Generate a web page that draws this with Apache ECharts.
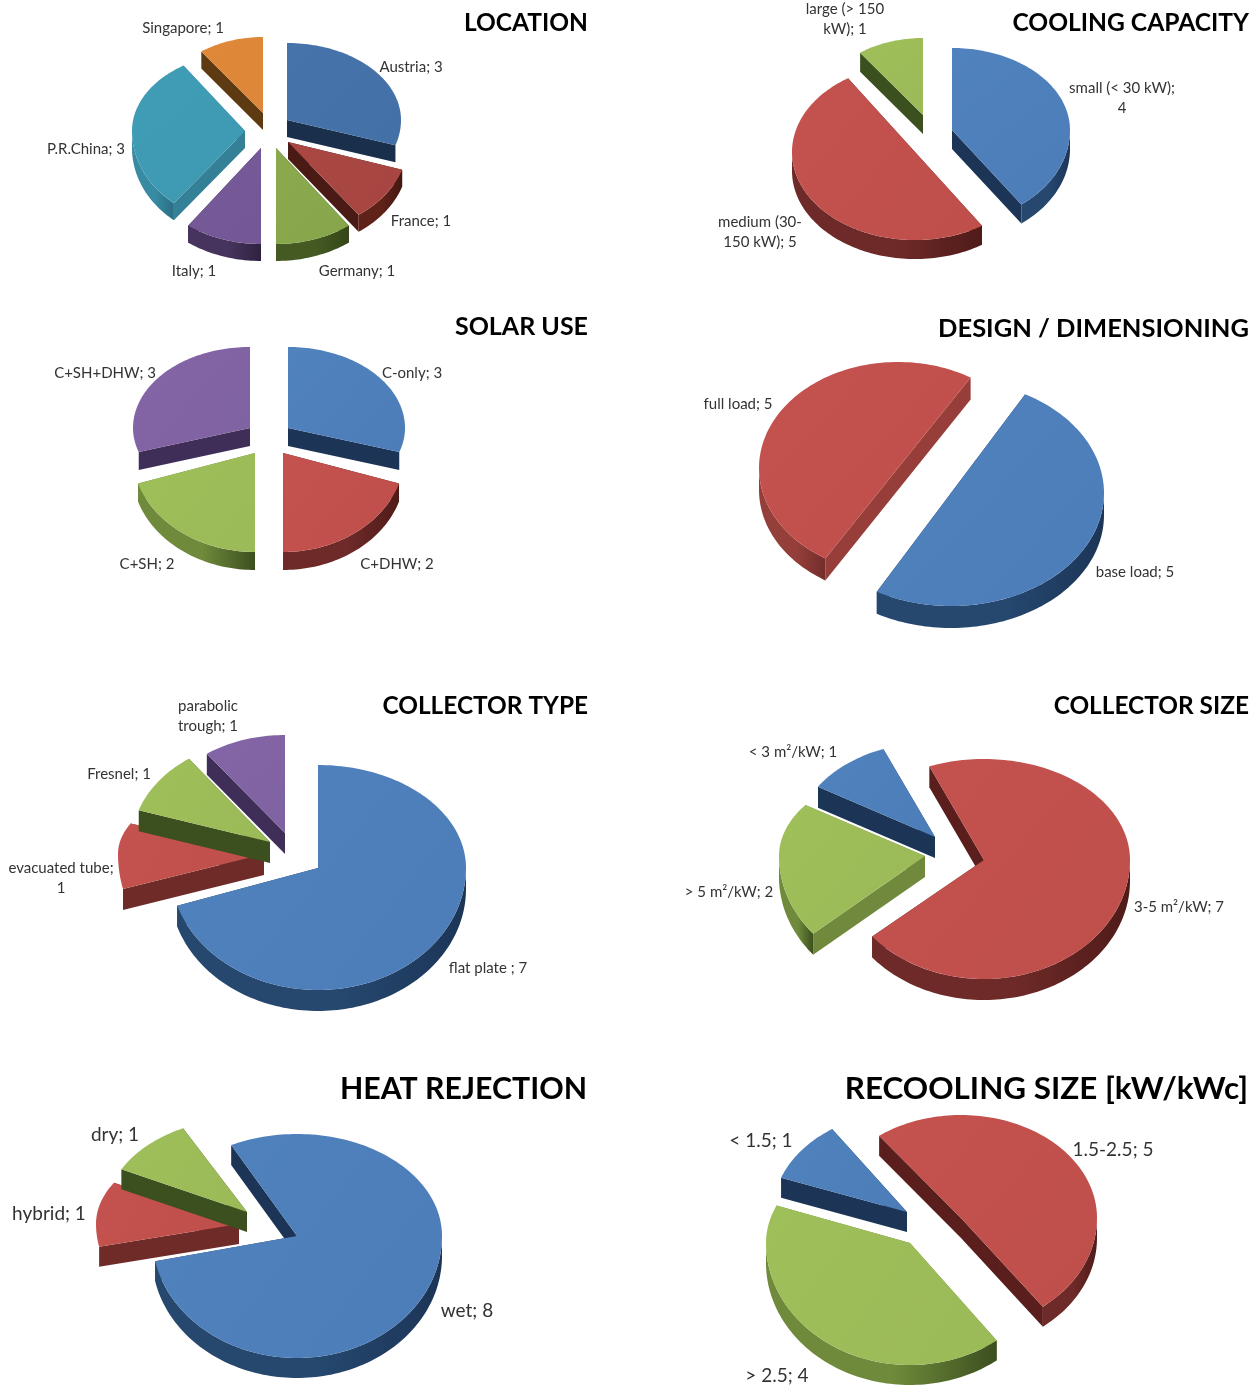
<!DOCTYPE html>
<html>
<head>
<meta charset="utf-8">
<style>html,body{margin:0;padding:0;background:#fff}#c{width:1259px;height:1385px}</style>
<script src="https://cdn.jsdelivr.net/npm/echarts@6/dist/echarts.min.js"></script>
</head>
<body>
<div id="c"></div>
<script>
// ---------- DATA ----------
const locationCats = ['Austria','France','Germany','Italy','P.R.China','Singapore'];
const locationVals = [3,1,1,1,3,1];
const coolingCats = ['small (< 30 kW);\n','medium (30-\n150 kW);','large (> 150\nkW);'];
const coolingVals = [4,5,1];
const solarCats = ['C-only','C+DHW','C+SH','C+SH+DHW'];
const solarVals = [3,2,2,3];
const designCats = ['base load','full load'];
const designVals = [5,5];
const collectorCats = ['flat plate ','evacuated tube;\n','Fresnel','parabolic\ntrough'];
const collectorVals = [7,1,1,1];
const sizeCats = ['< 3 m²/kW','3-5 m²/kW','> 5 m²/kW'];
const sizeVals = [1,7,2];
const heatCats = ['wet','hybrid','dry'];
const heatVals = [8,1,1];
const recoolCats = ['< 1.5','1.5-2.5','> 2.5'];
const recoolVals = [1,5,4];

// ---------- STYLE ----------
const P = {
  blue:   {top:['#5082be','#4c7db9'], cut:'#1c3557', arc:['#26486f','#1c3557']},
  red:    {top:['#c4524e','#bf4f4b'], cut:'#5a1f1c', arc:['#6e2a28','#4f1b19']},
  redC:   {top:['#c4524e','#bf4f4b'], cut:'#6e2b28', arc:['#6e2a28','#4f1b19']},
  redL:   {top:['#c4524e','#bf4f4b'], cut:'#983e3a', arc:['#953f3b','#732d2a']},
  green:  {top:['#9fbf5a','#9bba58'], cut:'#71893c', arc:['#6f8a3b','#3c4f1f']},
  greenD: {top:['#9fbf5a','#9bba58'], cut:'#3c4f1f', arc:['#6d883a','#3c4f1f']},
  purple: {top:['#8465a6','#7f62a1'], cut:'#3f2e58', arc:['#4a3862','#33254a']},
  lblue:  {top:['#4674aa','#4370a6'], cut:'#192f4c', arc:['#2a4f7c','#192f4c']},
  lred:   {top:['#aa4743','#a64541'], cut:'#4a1a14', arc:['#5e2219','#44160f']},
  lgreen: {top:['#8baa4e','#87a64b'], cut:'#384a1a', arc:['#445a22','#344617']},
  lpurple:{top:['#775a98','#735796'], cut:'#3a2a4e', arc:['#46345e','#2f2240']},
  teal:   {top:['#409db6','#3e99b2'], cut:'#348096', arc:['#378ba2','#2a6e82']},
  orange: {top:['#e08839','#de8639'], cut:'#5e3a12', arc:['#7a4c18','#5a3810']}
};
const FONT = 'Lato, Carlito, "Open Sans", sans-serif';
const LABEL = '#333333';

// ---------- LAYOUT: slice = [tip dx, tip dy, rx, ryBack, ryFront, startShift, endShift] (perspective fit, relative to the pie centre) ----------
const pies = [
 {cats:locationCats, vals:locationVals, c:[272,135], depth:17, start:0, font:15,
  pal:['lblue','lred','lgreen','lpurple','teal','orange'],
  geo:[[15,-15,114,77,82],[16,7,120,84,90],[4,13,124,96,96],[-11,13,124,96,96],[-27,-4,113,78,93,3,3],[-9,-22,105,76,76]],
  lab:[[411,66],[421,220],[357,270],[194,270],[86,148],[183,27]]},
 {cats:coolingCats, vals:coolingVals, c:[922,140], depth:19, start:0, font:15,
  pal:['blue','red','greenD'],
  geo:[[30,-10,118,82,92],[-7,12,123,88,88,3,3],[1,-25,107,77,77]],
  lab:[[1122,97],[760,231],[845,18]]},
 {cats:solarCats, vals:solarVals, c:[269,440], depth:18, start:0, font:15,
  pal:['blue','red','green','purple'],
  geo:[[19,-12,117,81,78],[14,13,122,99,99],[-14,13,123,99,99],[-19,-12,117,81,78]],
  lab:[[412,372],[397,563],[147,563],[105,372]]},
 {cats:designCats, vals:designVals, c:[925,480], depth:22, start:29, font:15,
  pal:['blue','redL'],
  geo:[[26,13,153,113,113],[-27,-12,139,106,106,2.5,2.5]],
  lab:[[1135,571],[738,403]]},
 {cats:collectorCats, vals:collectorVals, c:[295,850], depth:21, start:0, font:15,
  pal:['blue','redC','greenD','purple'],
  geo:[[23,18,148,103,122],[-31,4,146,75,135,3,6],[-25,-8,138,103,103],[-10,-17,133,98,98]],
  lab:[[488,967],[61,877],[119,773],[208,715]]},
 {cats:sizeCats, vals:sizeVals, c:[950,860], depth:21, start:302, font:15,
  pal:['blue','red','green'],
  geo:[[-15,-23,138,95,95],[34,0,146,101,119],[-25,-4,146,89,121,0,3]],
  lab:[[793,751],[1179,906],[729,891]]},
 {cats:heatCats, vals:heatVals, c:[270,1225], depth:20, start:333, font:19,
  pal:['blue','redC','greenD'],
  geo:[[27,11,145,102,122,0,-3],[-31,-1,143,85,110,-3,2],[-23,-13,141,94,94]],
  lab:[[467,1310],[49,1213],[115,1134]]},
 {cats:recoolCats, vals:recoolVals, c:[935,1225], depth:20, start:287, font:19,
  pal:['blue','red','green'],
  geo:[[-28,-13,134,100,100,3,3],[26,-7,136,103,111],[-25,18,144,100,122,0,5]],
  lab:[[761,1140],[1113,1149],[777,1375]]}
];
const titles = [
 ['LOCATION',588,22,24.5],['COOLING CAPACITY',1249,22,24.6],
 ['SOLAR USE',588,326,25],['DESIGN / DIMENSIONING',1249,328,25.5],
 ['COLLECTOR TYPE',588,705,24.4],['COLLECTOR SIZE',1249,705,24.4],
 ['HEAT REJECTION',587,1088,30.3],['RECOOLING SIZE [kW/kWc]',1248,1088,31.4]
];

// ---------- DRAWING ----------
const rad = d => d*Math.PI/180;
function rim(tip, g, a){            // point of the slice's elliptical rim at clockwise angle a
  const c = Math.cos(rad(a));
  return [tip[0]+g[2]*Math.sin(rad(a)), tip[1]-c*(c>0?g[3]:g[4])];
}
function arcPts(tip,g,a0,a1){
  const n = Math.max(2,Math.ceil((a1-a0)/1.5)), out=[];
  for(let i=0;i<=n;i++) out.push(rim(tip,g,a0+(a1-a0)*i/n));
  return out;
}
const vgrad = c => new echarts.graphic.LinearGradient(0,0,1,1,[{offset:0,color:c[0]},{offset:1,color:c[1]}]);
const hgrad = c => new echarts.graphic.LinearGradient(0,0,1,0,[{offset:0,color:c[0]},{offset:.55,color:c[0]},{offset:1,color:c[1]}]);
function labelText(cat,v){
  if(cat.endsWith('\n')) return cat+v;
  if(cat.endsWith(';')) return cat+' '+v;
  return cat+'; '+v;
}

function makeRender(p){
  const total = p.vals.reduce((a,b)=>a+b,0);
  return function(params, api){
    const i = params.dataIndex;
    let before = 0;
    for(let k=0;k<i;k++) before += p.vals[k];
    const v = api.value(0);
    const g = p.geo[i];
    const a0 = p.start + before/total*360 + (g[5]||0), a1 = p.start + (before+v)/total*360 + (g[6]||0);
    const tip = [p.c[0]+g[0], p.c[1]+g[1]], d = p.depth, pal = P[p.pal[i]];
    const ch = [];
    const quad = (A,B,fill)=>ch.push({type:'polygon',shape:{points:[A,B,[B[0],B[1]+d],[A[0],A[1]+d]]},style:{fill}});
    // cut faces
    quad(tip,rim(tip,g,a0),pal.cut);
    quad(tip,rim(tip,g,a1),pal.cut);
    // visible outer wall: near side of the rim; a sliver at the silhouette edge is hidden by perspective
    for(const off of [0,360]){
      const s = Math.max(a0,90+off), e = Math.min(a1,270+off);
      const sliver = e-s<25 && (s===90+off || e===270+off);
      if(e>s && !sliver){
        const up = arcPts(tip,g,s,e), low = up.map(q=>[q[0],q[1]+d]).reverse();
        ch.push({type:'polygon',shape:{points:up.concat(low)},style:{fill:hgrad(pal.arc)}});
      }
    }
    // top face
    ch.push({type:'polygon',shape:{points:[tip].concat(arcPts(tip,g,a0,a1))},style:{fill:vgrad(pal.top)}});
    // data label
    ch.push({type:'text',z2:10,style:{x:p.lab[i][0],y:p.lab[i][1]+1,text:labelText(p.cats[i],v),align:'center',verticalAlign:'middle',
      fill:LABEL,font:p.font+'px '+FONT,lineHeight:p.font*1.3}});
    return {type:'group',children:ch};
  };
}

const chart = echarts.init(document.getElementById('c'),null,{renderer:'canvas'});
chart.setOption({
  backgroundColor:'#fff',
  animation:false,
  title: titles.map(t=>({text:t[0],left:t[1],top:t[2]-t[3]*0.46,textAlign:'right',padding:0,
    textStyle:{fontFamily:FONT,fontWeight:'bold',fontSize:t[3],color:'#000'}})),
  series: pies.map((p,idx)=>({type:'custom',name:titles[idx][0],coordinateSystem:'none',silent:true,clip:false,
    renderItem:makeRender(p),data:p.vals.map(v=>[v])}))
});
</script>
</body>
</html>
